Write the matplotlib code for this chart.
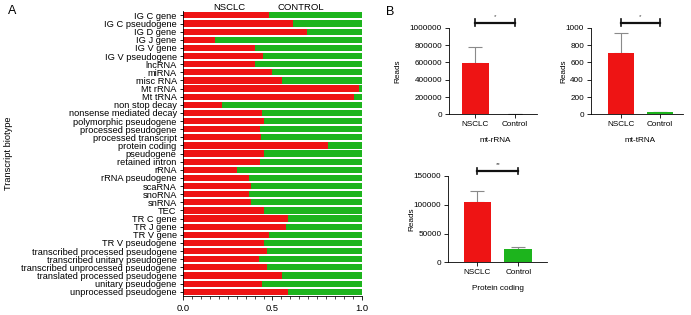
import matplotlib.pyplot as plt
import numpy as np

plt.rcParams['font.family'] = ['Liberation Sans', 'DejaVu Sans']

# panel A: fraction of reads per biotype (NSCLC part, control is the rest)
biotypes = ['IG C gene', 'IG C pseudogene', 'IG D gene', 'IG J gene', 'IG V gene',
            'IG V pseudogene', 'lncRNA', 'miRNA', 'misc RNA', 'Mt rRNA', 'Mt tRNA',
            'non stop decay', 'nonsense mediated decay', 'polymorphic pseudogene',
            'processed pseudogene', 'processed transcript', 'protein coding',
            'pseudogene', 'retained intron', 'rRNA', 'rRNA pseudogene', 'scaRNA',
            'snoRNA', 'snRNA', 'TEC', 'TR C gene', 'TR J gene', 'TR V gene',
            'TR V pseudogene', 'transcribed processed pseudogene',
            'transcribed unitary pseudogene', 'transcribed unprocessed pseudogene',
            'translated processed pseudogene', 'unitary pseudogene',
            'unprocessed pseudogene']
nsclc_frac = [0.48, 0.616, 0.695, 0.179, 0.40, 0.449, 0.402, 0.497, 0.555, 0.983,
              0.955, 0.218, 0.441, 0.452, 0.432, 0.434, 0.812, 0.454, 0.430, 0.30,
              0.369, 0.38, 0.369, 0.382, 0.454, 0.585, 0.575, 0.479, 0.451, 0.471,
              0.425, 0.471, 0.553, 0.441, 0.585]

# panel B: mean reads and error (upper)
groups = ['NSCLC', 'Control']
rrna_mean = [595000, 5000]
rrna_err = [185000, 0]
trna_mean = [712, 25]
trna_err = [232, 3]
pc_mean = [105000, 23500]
pc_err = [18500, 3000]

RED = '#ee1414'
GREEN = '#1db41d'

fig = plt.figure(figsize=(6.91, 3.15), dpi=100)

# ---------------- panel A ----------------
axA = fig.add_axes([0.2648, 0.061, 0.259, 0.903])
y = np.arange(len(biotypes))
nf = np.array(nsclc_frac)
axA.barh(y, nf, height=0.76, color=RED)
axA.barh(y, 1 - nf, left=nf, height=0.76, color=GREEN)
axA.set_ylim(len(biotypes) - 0.5, -0.5)
axA.set_xlim(0, 1)
axA.set_yticks(y)
axA.set_yticklabels(biotypes, fontsize=6.7)
axA.set_xticks([0, 0.5, 1.0])
axA.set_xticklabels(['0.0', '0.5', '1.0'], fontsize=6.7)
axA.set_xticks(np.arange(0, 1.0001, 0.05), minor=True)
axA.tick_params(axis='y', length=2.5, width=0.6, pad=2)
axA.tick_params(axis='x', which='major', length=3, width=0.6, pad=3)
axA.tick_params(axis='x', which='minor', length=1.8, width=0.5)
for s in ['top', 'right']:
    axA.spines[s].set_visible(False)
for s in ['left', 'bottom']:
    axA.spines[s].set_linewidth(0.6)
axA.set_ylabel('Transcript biotype', fontsize=6.7, labelpad=6)
axA.yaxis.set_label_coords(-0.95, 0.5)
fig.text(229 / 691, 1 - 7 / 315, 'NSCLC', fontsize=6.8, ha='center', va='center')
fig.text(301 / 691, 1 - 7 / 315, 'CONTROL', fontsize=6.8, ha='center', va='center')
fig.text(8 / 691, 1 - 11 / 315, 'A', fontsize=9, ha='left', va='center')


# ---------------- panel B ----------------
def bar_panel(rect, means, errs, ymax, ystep, xlim, xlabel, stars, ylab_x):
    ax = fig.add_axes(rect)
    x = np.arange(len(groups))
    ax.bar(x, means, width=0.68, color=[RED, GREEN], zorder=2)
    ax.errorbar(x, means, yerr=[[0, 0], errs], fmt='none', ecolor='#8a8a8a',
                elinewidth=0.8, capsize=5, capthick=0.8, zorder=1)
    ax.set_xlim(*xlim)
    ax.set_ylim(0, ymax)
    ax.set_yticks(np.arange(0, ymax + 1, ystep))
    ax.yaxis.set_major_formatter(plt.FormatStrFormatter('%d'))
    ax.set_xticks(x)
    ax.set_xticklabels(groups, fontsize=5.9)
    ax.tick_params(axis='y', labelsize=5.9, length=3, width=0.6, pad=2)
    ax.tick_params(axis='x', length=3, width=0.6, pad=2)
    for s in ['top', 'right']:
        ax.spines[s].set_visible(False)
    for s in ['left', 'bottom']:
        ax.spines[s].set_linewidth(0.6)
    ax.set_ylabel('Reads', fontsize=5.9)
    ax.yaxis.set_label_coords(ylab_x, 0.5)
    ax.text(0.5, -0.3, xlabel, fontsize=5.9, ha='center', va='center',
            transform=ax.get_xaxis_transform())
    # significance bracket
    yb = ymax * 1.06
    ax.plot([0, 1], [yb, yb], color='#111111', lw=1.6, clip_on=False)
    for xe in [0, 1]:
        ax.plot([xe, xe], [yb - ymax * 0.035, yb + ymax * 0.035], color='#111111',
                lw=1.2, clip_on=False)
    ax.text(0.5, yb + ymax * 0.045, stars, fontsize=4.5, color='#444444',
            ha='center', va='bottom')
    return ax


bar_panel([0.6498, 0.637, 0.127, 0.275], rrna_mean, rrna_err, 1000000, 200000,
          (-0.67, 1.55), 'mt-rRNA', '*', -0.54)
bar_panel([0.8553, 0.637, 0.1331, 0.275], trna_mean, trna_err, 1000, 200,
          (-0.77, 1.59), 'mt-tRNA', '*', -0.26)
bar_panel([0.6488, 0.1673, 0.1424, 0.274], pc_mean, pc_err, 150000, 50000,
          (-0.716, 1.70), 'Protein coding', '**', -0.33)
fig.text(386 / 691, 1 - 12 / 315, 'B', fontsize=9, ha='left', va='center')

fig.savefig('out.png', dpi=100)
